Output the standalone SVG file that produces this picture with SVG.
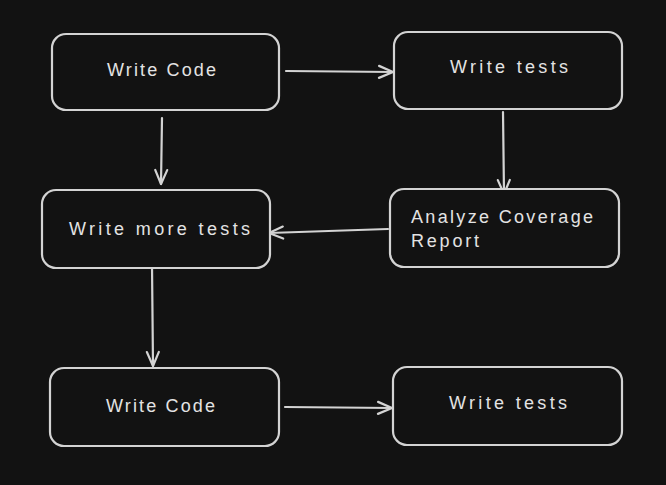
<svg xmlns="http://www.w3.org/2000/svg" width="666" height="485" viewBox="0 0 666 485">
<style>
.box{fill:#121212;stroke:#d3d3d3;stroke-width:2.2}
.t{font-family:"Liberation Sans",Arial,sans-serif;font-size:18px;fill:#e3e3e3}
.c{text-anchor:middle}
.ln{fill:none;stroke:#d3d3d3;stroke-width:2.2;stroke-linecap:round;stroke-linejoin:round}
</style>
<defs>
<marker id="ah" viewBox="0 0 20 20" refX="18" refY="10" markerWidth="20" markerHeight="20" markerUnits="userSpaceOnUse" orient="auto">
<path d="M4,4 L18,10 L4,16" fill="none" stroke="#d3d3d3" stroke-width="2.2" stroke-linecap="round" stroke-linejoin="round"/>
</marker>
</defs>
<rect width="666" height="485" fill="#121212"/>
<g id="connectors">
<line class="ln" x1="286" y1="71" x2="393" y2="72" marker-end="url(#ah)"/>
<line class="ln" x1="162" y1="118" x2="161" y2="184" marker-end="url(#ah)"/>
<line class="ln" x1="503" y1="112" x2="504" y2="194" marker-end="url(#ah)"/>
<line class="ln" x1="388" y1="229" x2="269" y2="233" marker-end="url(#ah)"/>
<line class="ln" x1="152" y1="265" x2="153" y2="366" marker-end="url(#ah)"/>
<line class="ln" x1="285" y1="407" x2="392" y2="408" marker-end="url(#ah)"/>
</g>
<g id="n1"><rect class="box" x="52" y="34" width="227" height="76" rx="14"/><text class="t" x="107" y="76" textLength="109" lengthAdjust="spacing">Write Code</text></g>
<g id="n2"><rect class="box" x="394" y="32" width="228" height="77" rx="14"/><text class="t" x="450" y="73" textLength="118" lengthAdjust="spacing">Write tests</text></g>
<g id="n3"><rect class="box" x="42" y="190" width="228" height="78" rx="14"/><text class="t" x="69" y="235" textLength="181" lengthAdjust="spacing">Write more tests</text></g>
<g id="n4"><rect class="box" x="390" y="189" width="229" height="78" rx="14"/><text class="t" x="411" y="223" textLength="182" lengthAdjust="spacing">Analyze Coverage</text><text class="t" x="411" y="247" textLength="68" lengthAdjust="spacing">Report</text></g>
<g id="n5"><rect class="box" x="50" y="368" width="229" height="78" rx="14"/><text class="t" x="106" y="412" textLength="109" lengthAdjust="spacing">Write Code</text></g>
<g id="n6"><rect class="box" x="393" y="367" width="229" height="78" rx="14"/><text class="t" x="449" y="409" textLength="118" lengthAdjust="spacing">Write tests</text></g>
</svg>
